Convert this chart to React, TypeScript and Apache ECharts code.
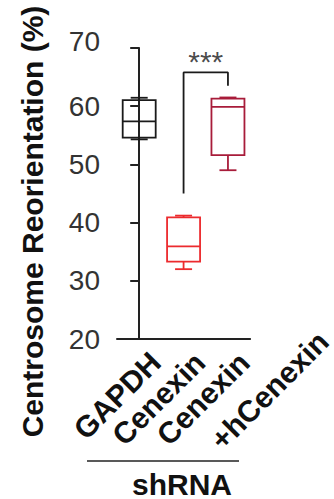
import React, { useEffect, useRef } from "react";
import * as echarts from "echarts";

// ---- data ----
const CATEGORIES = ["GAPDH", "Cenexin", "Cenexin"];
const SECOND_LINE = ["", "", "+hCenexin"];
// [min, Q1, median, Q3, max]
const GAPDH_BOX = [54.3, 54.6, 57.4, 61.05, 61.45];
const CENEXIN_BOX = [32.0, 33.3, 35.9, 40.9, 41.2];
const RESCUE_BOX = [49.0, 51.6, 59.9, 61.3, 61.5];
const Y_TICKS = [20, 30, 40, 50, 60, 70];
const SIG_BRACKET = [
  [1, 45],
  [1, 65.8],
  [2, 65.8],
  [2, 63.5],
];
const SIG_LABEL_POINT = [1.5, 67.6];
const SIG_TEXT = "***";
const Y_TITLE = "Centrosome Reorientation (%)";
const GROUP_TITLE = "shRNA";

const BOX_COLORS = ["#1a1a1a", "#ec2b2e", "#a81c3a"];
const FONT = "'Liberation Sans', Arial, Helvetica, sans-serif";

export default function App() {
  const ref = useRef<HTMLDivElement>(null);

  useEffect(() => {
    if (!ref.current) return;
    const chart = echarts.init(ref.current, null, { renderer: "svg" });
    const boxes = [GAPDH_BOX, CENEXIN_BOX, RESCUE_BOX];
    const boxData = boxes.map((b, i) => [i, ...b]);

    const xLabelBase = {
      rotate: 45,
      interval: 0,
      fontSize: 30,
      fontWeight: "bold" as const,
      fontFamily: FONT,
      color: "#111",
      align: "right" as const,
      verticalAlign: "top" as const,
    };

    chart.setOption({
      animation: false,
      grid: { left: 117, top: 48, width: 146, height: 291, containLabel: false },
      xAxis: [
        {
          type: "category",
          data: CATEGORIES,
          boundaryGap: true,
          axisLine: { lineStyle: { color: "#222", width: 2 } },
          axisTick: { alignWithLabel: true, length: 10, lineStyle: { color: "#222", width: 2 } },
          axisLabel: { ...xLabelBase, margin: 2, padding: [8, 0, 0, 0] },
          splitLine: { show: false },
        },
        {
          type: "category",
          data: SECOND_LINE,
          position: "bottom",
          boundaryGap: true,
          axisLine: { show: false },
          axisTick: { show: false },
          axisLabel: { ...xLabelBase, margin: -98, padding: [120, 0, 0, 0] },
          splitLine: { show: false },
        },
        {
          type: "value",
          min: -0.5,
          max: 2.5,
          show: false,
        },
      ],
      yAxis: {
        type: "value",
        min: Y_TICKS[0],
        max: Y_TICKS[Y_TICKS.length - 1],
        interval: 10,
        name: Y_TITLE,
        nameLocation: "middle",
        nameRotate: 90,
        nameGap: 70,
        nameTextStyle: {
          fontSize: 30,
          fontWeight: "bold",
          fontFamily: FONT,
          color: "#111",
          padding: [0, 56, 0, 0],
        },
        axisLine: { show: true, lineStyle: { color: "#222", width: 2 } },
        axisTick: { show: true, length: 9, lineStyle: { color: "#222", width: 2 } },
        axisLabel: {
          fontSize: 28,
          fontFamily: FONT,
          color: "#333",
          margin: 17,
          formatter: (v: number) =>
            v === Y_TICKS[Y_TICKS.length - 1] ? `{top|${v}}` : `${v}`,
          rich: {
            top: { fontSize: 28, fontFamily: FONT, color: "#333", padding: [0, 0, 14, 0] },
          },
        },
        splitLine: { show: false },
      },
      series: [
        {
          type: "custom",
          xAxisIndex: 0,
          yAxisIndex: 0,
          data: boxData,
          encode: { x: 0, y: [1, 2, 3, 4, 5] },
          renderItem: (params: any, api: any) => {
            const idx = api.value(0);
            const vals = [1, 2, 3, 4, 5].map((k) => api.value(k));
            const x = api.coord([idx, vals[2]])[0];
            const y = vals.map((v: number) => api.coord([idx, v])[1]);
            const color = BOX_COLORS[idx];
            const bw = 33;
            const cw = 17;
            const lw = 1.8;
            const ls = { stroke: color, lineWidth: lw, fill: "none" };
            return {
              type: "group",
              children: [
                {
                  type: "rect",
                  shape: { x: x - bw / 2, y: y[3], width: bw, height: y[1] - y[3] },
                  style: { stroke: color, lineWidth: lw, fill: "rgba(0,0,0,0)" },
                },
                { type: "line", shape: { x1: x - bw / 2, y1: y[2], x2: x + bw / 2, y2: y[2] }, style: ls },
                { type: "line", shape: { x1: x, y1: y[3], x2: x, y2: y[4] }, style: ls },
                { type: "line", shape: { x1: x, y1: y[1], x2: x, y2: y[0] }, style: ls },
                { type: "line", shape: { x1: x - cw / 2, y1: y[4], x2: x + cw / 2, y2: y[4] }, style: ls },
                { type: "line", shape: { x1: x - cw / 2, y1: y[0], x2: x + cw / 2, y2: y[0] }, style: ls },
              ],
            };
          },
          z: 3,
        },
        {
          type: "line",
          xAxisIndex: 2,
          yAxisIndex: 0,
          data: SIG_BRACKET,
          symbol: "none",
          lineStyle: { color: "#1a1a1a", width: 1.8 },
          silent: true,
        },
        {
          type: "scatter",
          xAxisIndex: 2,
          yAxisIndex: 0,
          data: [SIG_LABEL_POINT],
          symbolSize: 0,
          label: {
            show: true,
            position: "inside",
            formatter: SIG_TEXT,
            fontSize: 30,
            fontFamily: FONT,
            color: "#1a1a1a",
          },
          silent: true,
        },
      ],
      graphic: [
        {
          type: "line",
          shape: { x1: 87, y1: 461, x2: 239, y2: 461 },
          style: { stroke: "#222", lineWidth: 1.5 },
        },
        {
          type: "text",
          x: 182,
          y: 484,
          style: {
            text: GROUP_TITLE,
            fontSize: 30,
            fontWeight: "bold",
            fontFamily: FONT,
            fill: "#111",
            align: "center",
            verticalAlign: "middle",
          },
        },
      ],
    });
    return () => chart.dispose();
  }, []);

  return (
    <div
      ref={ref}
      style={{ position: "fixed", left: 0, top: 0, width: 334, height: 499, background: "#fff" }}
    />
  );
}
